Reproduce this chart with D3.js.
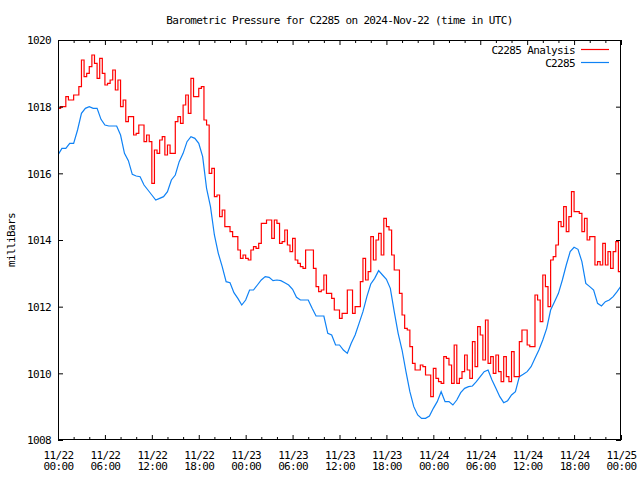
<!DOCTYPE html>
<html><head><meta charset="utf-8">
<script src="https://cdn.jsdelivr.net/npm/d3@7"></script>
<style>
body{margin:0;background:#fff}
text{font-family:'DejaVu Sans Mono',monospace;font-size:11px;letter-spacing:-0.65px;fill:#000}
</style>
</head><body><svg id="c" width="640" height="480"></svg>
<script>
const titleText = "Barometric Pressure for C2285 on 2024-Nov-22 (time in UTC)";
const yAxisLabel = "milliBars";
const seriesNames = ["C2285 Analysis", "C2285"];
const seriesColors = ["#ff0000", "#0f82f5"];
const startTime = "2024-11-22T00:00:00Z";
const endTime = "2024-11-25T00:00:00Z";
const yTicks = [1008, 1010, 1012, 1014, 1016, 1018, 1020];
const redStepMinutes = 20;
const blueStepMinutes = 30;

// C2285 Analysis, every 20 minutes
const redValues = [
 1017.95, 1018.0, 1018.0,
 1018.3, 1018.2, 1018.2,
 1018.35, 1018.35, 1018.6,
 1019.4, 1018.9, 1019.0,
 1019.2, 1019.55, 1019.3,
 1018.85, 1019.45, 1019.0,
 1018.65, 1018.7, 1018.8,
 1019.1, 1018.5, 1018.8,
 1018.0, 1018.2, 1017.55,
 1017.7, 1017.7, 1017.15,
 1017.2, 1017.45, 1017.45,
 1016.95, 1017.15, 1016.95,
 1015.7, 1016.7, 1016.6,
 1017.0, 1017.1, 1016.55,
 1016.85, 1016.6, 1016.6,
 1017.55, 1017.7, 1017.5,
 1018.05, 1018.35, 1017.8,
 1018.85, 1018.3, 1018.3,
 1018.55, 1018.6, 1017.6,
 1017.45, 1016.0, 1016.15,
 1015.3, 1015.35, 1014.7,
 1014.9, 1014.4, 1014.4,
 1014.25, 1014.1, 1014.1,
 1013.7, 1013.45, 1013.55,
 1013.45, 1013.4, 1013.7,
 1013.8, 1013.75, 1013.9,
 1014.5, 1014.5, 1014.6,
 1014.6, 1014.05, 1014.6,
 1014.5, 1013.9, 1013.95,
 1014.3, 1013.85, 1013.65,
 1014.05, 1013.4, 1013.3,
 1013.2, 1013.15, 1013.7,
 1013.7, 1013.7, 1013.15,
 1012.6, 1012.45, 1012.5,
 1012.95, 1012.4, 1012.4,
 1012.25, 1011.9, 1011.9,
 1011.65, 1011.8, 1011.8,
 1012.5, 1012.5, 1011.8,
 1012.0, 1012.0, 1012.75,
 1013.45, 1012.8, 1013.05,
 1014.1, 1013.4, 1014.0,
 1014.2, 1013.55, 1014.65,
 1014.4, 1014.3, 1013.55,
 1013.1, 1013.1, 1012.4,
 1011.75, 1011.35, 1011.3,
 1010.8, 1010.3, 1010.1,
 1010.1, 1010.25, 1010.2,
 1009.95, 1009.95, 1009.3,
 1010.15, 1009.85, 1009.75,
 1009.7, 1010.5, 1010.45,
 1010.25, 1009.7, 1010.85,
 1009.7, 1009.85, 1010.05,
 1010.55, 1010.1, 1009.85,
 1010.95, 1010.2, 1011.4,
 1011.15, 1010.4, 1011.6,
 1010.3, 1010.5, 1010.0,
 1010.55, 1010.05, 1009.75,
 1010.5, 1009.9, 1009.75,
 1010.65, 1009.9, 1009.9,
 1010.95, 1011.3, 1011.3,
 1010.85, 1010.8, 1010.8,
 1012.35, 1012.2, 1011.55,
 1012.95, 1012.6, 1012.0,
 1013.4, 1013.5, 1013.85,
 1014.55, 1014.4, 1015.0,
 1014.25, 1014.7, 1015.45,
 1014.85, 1014.85, 1014.8,
 1014.25, 1014.65, 1014.0,
 1014.1, 1014.1, 1013.25,
 1013.35, 1013.25, 1013.9,
 1013.25, 1013.65, 1013.15,
 1013.65, 1013.95, 1013.05,
 1014.4
];

// C2285 observed, every 30 minutes
const blueValues = [
 1016.55, 1016.75, 1016.75, 1016.9, 1016.9, 1017.3, 1017.8, 1017.95, 1018.0, 1017.95, 1017.95, 1017.62,
 1017.45, 1017.42, 1017.42, 1017.42, 1017.15, 1016.6, 1016.38, 1015.97, 1015.92, 1015.9, 1015.65, 1015.5,
 1015.35, 1015.2, 1015.25, 1015.3, 1015.45, 1015.8, 1015.95, 1016.35, 1016.6, 1016.95, 1017.1, 1017.05,
 1016.9, 1016.5, 1015.55, 1015.0, 1014.15, 1013.6, 1013.2, 1012.75, 1012.72, 1012.42, 1012.25, 1012.05,
 1012.2, 1012.5, 1012.5, 1012.65, 1012.8, 1012.9, 1012.88, 1012.78, 1012.8, 1012.78, 1012.72, 1012.65,
 1012.52, 1012.28, 1012.2, 1012.2, 1012.2, 1011.95, 1011.72, 1011.72, 1011.72, 1011.2, 1011.15, 1010.85,
 1010.85, 1010.7, 1010.6, 1010.9, 1011.15, 1011.5, 1011.85, 1012.3, 1012.68, 1012.85, 1013.08, 1012.95,
 1012.82, 1012.55, 1011.85, 1011.2, 1010.7, 1010.05, 1009.45, 1009.0, 1008.75, 1008.65, 1008.65, 1008.72,
 1008.95, 1009.15, 1009.45, 1009.15, 1009.15, 1009.05, 1009.2, 1009.42, 1009.55, 1009.6, 1009.62, 1009.75,
 1009.9, 1010.05, 1010.1, 1009.8, 1009.55, 1009.3, 1009.12, 1009.18, 1009.35, 1009.45, 1009.9, 1009.97,
 1010.05, 1010.2, 1010.45, 1010.7, 1011.0, 1011.35, 1011.9, 1012.15, 1012.4, 1012.8, 1013.25, 1013.65,
 1013.78, 1013.72, 1013.35, 1012.7, 1012.6, 1012.5, 1012.1, 1012.02, 1012.15, 1012.2, 1012.3, 1012.45,
 1012.62
];

const svg = d3.select("#c");
const L = 58, R = 621, T = 40, B = 440;
const t0 = new Date(startTime), t1 = new Date(endTime);
const x = d3.scaleUtc().domain([t0, t1]).range([L, R]);
const y = d3.scaleLinear().domain([1008, 1020]).range([B, T]);

const toPoints = (vals, stepMin) => vals.map((v, i) => ({t: new Date(t0.getTime() + i * stepMin * 60000), v}));
const redData = toPoints(redValues, redStepMinutes);
const blueData = toPoints(blueValues, blueStepMinutes);

svg.append("defs").append("clipPath").attr("id", "clip")
  .append("rect").attr("x", L).attr("y", T).attr("width", R - L).attr("height", B - T);

const stepLine = d3.line().x(d => x(d.t)).y(d => y(d.v)).curve(d3.curveStepAfter);
const straightLine = d3.line().x(d => x(d.t)).y(d => y(d.v));
const plot = svg.append("g").attr("clip-path", "url(#clip)");
plot.append("path").datum(blueData).attr("d", straightLine)
  .attr("fill", "none").attr("stroke", seriesColors[1]).attr("stroke-width", 1.2);
plot.append("path").datum(redData).attr("d", stepLine)
  .attr("fill", "none").attr("stroke", seriesColors[0]).attr("stroke-width", 1.2);

// axes
const majorX = d3.utcHour.every(6).range(t0, new Date(t1.getTime() + 1));
const minorX = d3.utcHour.every(2).range(t0, t1).filter(d => d.getUTCHours() % 6 !== 0);
const fmtDate = d3.utcFormat("%m/%d"), fmtTime = d3.utcFormat("%H:%M");

const styleAxis = g => { g.select(".domain").remove(); g.selectAll(".tick line").attr("stroke", "#000"); };

const gB = svg.append("g").attr("transform", `translate(0,${B})`)
  .call(d3.axisBottom(x).tickValues(majorX).tickSizeInner(-5).tickSizeOuter(0).tickPadding(0).tickFormat(""))
  .call(styleAxis);
gB.selectAll(".tick text").each(function(d) {
  const t = d3.select(this).attr("dy", null).attr("y", null);
  t.text(null);
  t.append("tspan").attr("x", 0).attr("y", 18.5).text(fmtDate(d));
  t.append("tspan").attr("x", 0).attr("y", 30).text(fmtTime(d));
});
gB.attr("font-family", null).attr("font-size", null);
svg.append("g").attr("transform", `translate(0,${B})`)
  .call(d3.axisBottom(x).tickValues(minorX).tickSizeInner(-3).tickSizeOuter(0).tickFormat(""))
  .call(styleAxis);
svg.append("g").attr("transform", `translate(0,${T})`)
  .call(d3.axisTop(x).tickValues(majorX).tickSizeInner(-5).tickSizeOuter(0).tickFormat(""))
  .call(styleAxis);
svg.append("g").attr("transform", `translate(0,${T})`)
  .call(d3.axisTop(x).tickValues(minorX).tickSizeInner(-3).tickSizeOuter(0).tickFormat(""))
  .call(styleAxis);

const gL = svg.append("g").attr("transform", `translate(${L},0)`)
  .call(d3.axisLeft(y).tickValues(yTicks).tickSizeInner(-5).tickSizeOuter(0).tickPadding(7).tickFormat(d3.format("d")))
  .call(styleAxis);
gL.attr("font-family", null).attr("font-size", null);
gL.selectAll(".tick text").attr("dy", "0.36em");
svg.append("g").attr("transform", `translate(${R},0)`)
  .call(d3.axisRight(y).tickValues(yTicks).tickSizeInner(-5).tickSizeOuter(0).tickFormat(""))
  .call(styleAxis);

svg.append("rect").attr("x", L + 0.5).attr("y", T + 0.5).attr("width", R - L - 1).attr("height", B - T - 1)
  .attr("fill", "none").attr("stroke", "#000").attr("stroke-width", 1);

// title and y label
svg.append("text").attr("x", 339.5).attr("y", 24).attr("text-anchor", "middle").text(titleText);
svg.append("text").attr("transform", "translate(15,240) rotate(-90)").attr("text-anchor", "middle").text(yAxisLabel);

// legend
const leg = svg.append("g");
seriesNames.forEach((name, i) => {
  const ly = 49 + i * 13;
  leg.append("text").attr("x", 575).attr("y", ly + 4.5).attr("text-anchor", "end").text(name);
  leg.append("line").attr("x1", 581).attr("x2", 609).attr("y1", ly + 0.5).attr("y2", ly + 0.5)
    .attr("stroke", seriesColors[i]).attr("stroke-width", 1.2);
});
</script>
</body></html>
